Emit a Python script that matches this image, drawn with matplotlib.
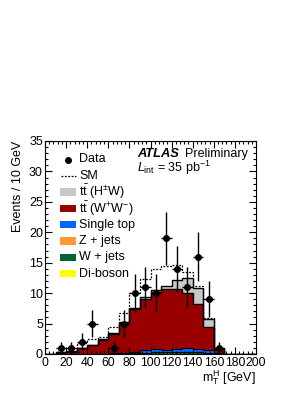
import numpy as np
import matplotlib
matplotlib.use("Agg")
import matplotlib.pyplot as plt
from matplotlib.patches import Rectangle
from matplotlib.lines import Line2D
from matplotlib.ticker import MultipleLocator

plt.rcParams['font.family'] = ['Liberation Sans', 'DejaVu Sans']
plt.rcParams['mathtext.fontset'] = 'custom'
plt.rcParams['mathtext.rm'] = 'Liberation Sans'
plt.rcParams['mathtext.it'] = 'Liberation Sans:italic'
plt.rcParams['mathtext.bf'] = 'Liberation Sans:bold'

# ---- data (bins of 10 GeV, 0..200) ----
bin_edges = list(range(0, 210, 10))
data = [0, 1, 1, 2, 5, 0, 1, 5, 10, 11, 10, 19, 14, 11, 16, 9, 1, 0, 0, 0]
diboson = [0, 0, 0, 0, 0, 0, 0, 0.01, 0.01, 0.01, 0.01, 0.01, 0.01, 0.01, 0.01, 0, 0, 0, 0, 0]
wjets = [0, 0, 0, 0.01, 0.01, 0.03, 0.05, 0.08, 0.12, 0.20, 0.26, 0.26, 0.26, 0.28, 0.26, 0.22, 0.06, 0, 0, 0]
zjets = [0, 0, 0, 0, 0, 0.01, 0.01, 0.01, 0.01, 0.02, 0.02, 0.02, 0.01, 0.02, 0.01, 0.01, 0, 0, 0, 0]
singletop = [0, 0, 0, 0.02, 0.03, 0.04, 0.08, 0.12, 0.22, 0.40, 0.52, 0.40, 0.55, 0.65, 0.52, 0.38, 0.08, 0, 0, 0]
ttWW = [0, 0.20, 0.40, 0.88, 1.37, 2.22, 3.16, 4.88, 7.04, 8.37, 9.38, 9.91, 9.77, 9.14, 7.41, 3.89, 0.61, 0, 0, 0]
ttHW = [0, 0.05, 0.05, 0.10, 0.10, 0.10, 0.10, 0.10, 0.20, 0.30, 0.30, 0.50, 1.60, 2.35, 2.60, 1.20, 0.20, 0, 0, 0]
sm_only = [0, 0.40, 0.50, 1.75, 2.40, 2.85, 4.40, 6.80, 10.0, 12.3, 13.9, 14.45, 14.55, 13.5, 11.2, 5.90, 1.00, 0, 0, 0]

labels = ['Data', 'SM', r'$\mathrm{t\bar{t}}$ (H$^{\pm}$W)', r'$\mathrm{t\bar{t}}$ (W$^{+}$W$^{-}$)',
          'Single top', 'Z + jets', 'W + jets', 'Di-boson']

c_ttHW = '#c8c8c8'
c_ttWW = '#990000'
c_st = '#0066ff'
c_z = '#ff9933'
c_w = '#006633'
c_db = '#ffff00'

W, H = 307, 398
fig = plt.figure(figsize=(W / 100, H / 100), dpi=100)
ax = fig.add_axes([45 / W, 1 - 354 / H, (256 - 45) / W, (354 - 141) / H])

edges = np.array(bin_edges, dtype=float)
layers = [(diboson, c_db), (wjets, c_w), (zjets, c_z), (singletop, c_st), (ttWW, c_ttWW), (ttHW, c_ttHW)]
cum = np.zeros(len(data))
cums = []
for vals, col in layers:
    cum = cum + np.array(vals)
    cums.append((cum.copy(), col))
for i, (cv, col) in enumerate(reversed(cums)):
    ax.stairs(cv, edges, fill=True, facecolor=col, edgecolor='none', zorder=1 + i * 0.01)
lws = [0.5, 0.5, 0.5, 0.7, 1.0, 1.0]
for (cv, col), lw in zip(cums, lws):
    ax.stairs(cv, edges, fill=False, color='black', lw=lw, zorder=2)

ax.stairs(np.array(sm_only), edges, color='black', lw=0.9, linestyle=(0, (1.5, 1.2)), zorder=3)

d = np.array(data, dtype=float)
centers = 0.5 * (edges[:-1] + edges[1:])
m = d > 0
ax.errorbar(centers[m], d[m], xerr=5, yerr=np.sqrt(d[m]), fmt='o', color='black',
            markersize=4, elinewidth=1.0, capsize=0, zorder=5)

ax.set_xlim(0, 200)
ax.set_ylim(0, 35)
ax.xaxis.set_major_locator(MultipleLocator(20))
ax.xaxis.set_minor_locator(MultipleLocator(4))
ax.yaxis.set_major_locator(MultipleLocator(5))
ax.yaxis.set_minor_locator(MultipleLocator(1))
ax.tick_params(which='both', direction='in', top=True, right=True, labelsize=9, width=0.8)
ax.tick_params(which='major', length=5)
ax.tick_params(which='minor', length=2.5)
ax.tick_params(axis='x', pad=2, labelsize=8.7)
ax.tick_params(axis='y', pad=1.5)
for s in ax.spines.values():
    s.set_linewidth(0.8)

fig.text(18 / W, 1 - 141 / H, 'Events / 10 GeV', rotation=90, ha='center', va='top', fontsize=9)
fig.text(256 / W, 1 - 378 / H, r'$\mathrm{m}_{\mathrm{T}}^{\mathrm{H}}$ [GeV]', ha='right', va='center', fontsize=9)

fig.text(137 / W, 1 - 154 / H, 'ATLAS', fontsize=9.3, fontweight='bold', fontstyle='italic', ha='left', va='center')
fig.text(185 / W, 1 - 154 / H, 'Preliminary', fontsize=9, ha='left', va='center')
fig.text(137 / W, 1 - 168 / H, r'$L_{\mathrm{int}}$ = 35 pb$^{\mathrm{-1}}$', fontsize=9, ha='left', va='center')

# legend (manual)
y0, dy = 159.5, 16.3
patch_cols = [None, None, c_ttHW, c_ttWW, c_st, c_z, c_w, c_db]
for i, lab in enumerate(labels):
    yc = y0 + dy * i
    fy = 1 - yc / H
    fig.text(79 / W, fy, lab, fontsize=9, ha='left', va='center')
    if i == 0:
        fig.add_artist(Line2D([68 / W], [fy], marker='o', color='black', markersize=4, transform=fig.transFigure))
    elif i == 1:
        fig.add_artist(Line2D([61 / W, 76 / W], [fy, fy], color='black', lw=0.9, linestyle=(0, (1.5, 1.2)),
                              transform=fig.transFigure))
    else:
        fig.add_artist(Rectangle((60 / W, fy - 3.8 / H), 16 / W, 7.6 / H, facecolor=patch_cols[i],
                                 edgecolor='none', transform=fig.transFigure))

fig.savefig('out.png', dpi=100)
